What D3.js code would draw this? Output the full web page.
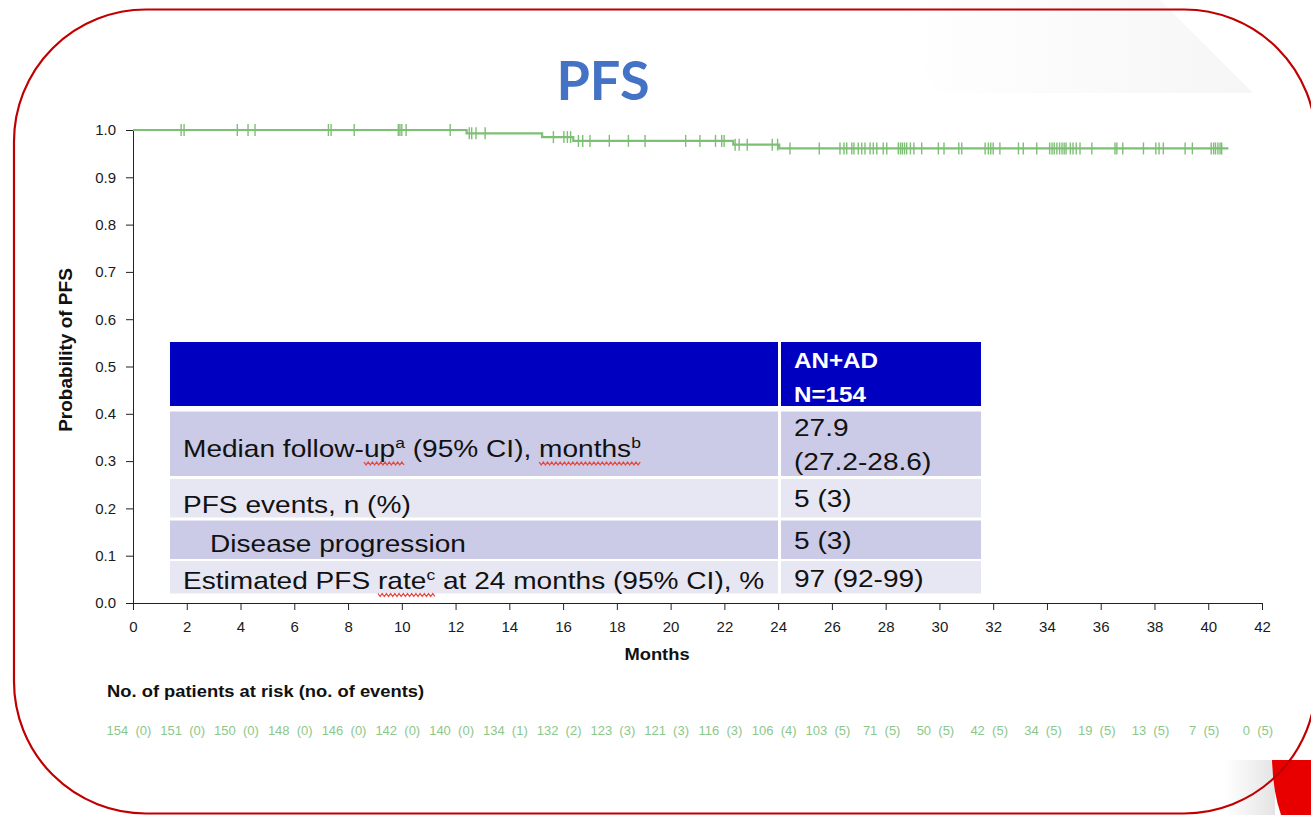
<!DOCTYPE html>
<html>
<head>
<meta charset="utf-8">
<script src="https://cdn.jsdelivr.net/npm/d3@7"></script>
<style>
  body { margin: 0; background: #fff; }
  svg { display: block; }
  text { font-family: "Liberation Sans", Arial, sans-serif; }
</style>
</head>
<body>
<div id="chart"></div>
<script>
// ---- data ----
const xTicks = [0,2,4,6,8,10,12,14,16,18,20,22,24,26,28,30,32,34,36,38,40,42];
const yTicks = [0,0.1,0.2,0.3,0.4,0.5,0.6,0.7,0.8,0.9,1.0];

// Kaplan-Meier steps (event times, survival after each)
const stepTimes = [0, 12.41, 15.22, 16.38, 22.33, 24.04];
const stepSurv  = [1.0, 0.993, 0.985, 0.977, 0.969, 0.961];
const lastFollowUp = 40.75;

// censoring ticks (months)
const censorTimes = [
  1.79, 1.9, 3.88, 4.28, 4.54, 7.27, 7.37, 8.23, 9.87, 9.93, 10.0, 10.16, 11.8,
  12.51, 12.6, 12.76, 13.1,
  15.64, 16.03, 16.16, 16.28,
  16.57, 16.73, 17.0, 17.72, 18.43, 19.05, 20.56, 21.09, 21.67, 21.9, 21.99,
  22.4, 22.55, 22.85, 23.78, 23.98,
  24.44, 25.53, 26.3, 26.45, 26.55, 26.74, 26.82, 26.98, 27.11, 27.23, 27.42, 27.54,
  27.67, 27.91, 28.04, 28.47, 28.55, 28.62, 28.7, 28.78, 28.92, 29.05, 29.34, 29.96,
  30.17, 30.72, 30.83, 31.7, 31.82, 31.91, 32.0, 32.25, 32.94, 33.12, 33.62, 34.1,
  34.19, 34.27, 34.37, 34.47, 34.56, 34.64, 34.71, 34.87, 34.97, 35.09, 35.23, 35.67,
  36.53, 36.6, 36.82, 37.59, 38.05, 38.17, 38.33, 39.14, 39.41, 40.11, 40.2, 40.27,
  40.36, 40.44, 40.5
];

// patients at risk / cumulative events at each x tick
const atRiskN      = [154,151,150,148,146,142,140,134,132,123,121,116,106,103,71,50,42,34,19,13,7,0];
const atRiskEvents = [0,0,0,0,0,0,0,1,2,3,3,3,4,5,5,5,5,5,5,5,5,5];

// summary table
const tableHeader = ["AN+AD", "N=154"];
const tableLabels = [
  [{t:"Median follow-"},{t:"up",sq:1},{t:"a",sup:1,sq:1},{t:" (95% CI), "},{t:"months",sq:1},{t:"b",sup:1,sq:1}],
  [{t:"PFS events, n (%)"}],
  [{t:"Disease progression"}],
  [{t:"Estimated PFS "},{t:"rate",sq:1},{t:"c",sup:1,sq:1},{t:" at 24 months (95% CI), %"}]
];
const tableValues = [["27.9","(27.2-28.6)"],["5 (3)"],["5 (3)"],["97 (92-99)"]];

// ---- drawing ----
const W = 1311, H = 815;
const svg = d3.select("#chart").append("svg").attr("width", W).attr("height", H);
const defs = svg.append("defs");

// faint decoration top right
const g1 = defs.append("linearGradient").attr("id","fade").attr("x1","0").attr("x2","1");
g1.append("stop").attr("offset","0%").attr("stop-color","#ffffff");
g1.append("stop").attr("offset","100%").attr("stop-color","#f6f6f6");
svg.append("path").attr("d","M900,0 L1160,0 L1253,93 L933,93 Z").attr("fill","url(#fade)");

// red corner bottom right
const g2 = defs.append("linearGradient").attr("id","fade2").attr("x1","0").attr("x2","1");
g2.append("stop").attr("offset","0%").attr("stop-color","#ffffff");
g2.append("stop").attr("offset","100%").attr("stop-color","#e4e4e4");
svg.append("rect").attr("x",1225).attr("y",760).attr("width",50).attr("height",55).attr("fill","url(#fade2)");
svg.append("path").attr("d","M1272,760 Q1273,792 1281,815 L1311,815 L1311,760 Z").attr("fill","#e80000");

// title
svg.append("text").attr("x", 603).attr("y", 100).attr("text-anchor","middle")
  .style("font-family","Lato, sans-serif").style("font-weight","bold").style("font-size","54px")
  .attr("fill","#4472c4").text("PFS");

const x = d3.scaleLinear().domain([0, 42]).range([133, 1262]);
const y = d3.scaleLinear().domain([0, 1]).range([603, 130]);

// axes
const xAxis = svg.append("g").attr("transform", `translate(0,${y(0)})`)
  .call(d3.axisBottom(x).tickValues(xTicks).tickSize(7).tickPadding(11).tickFormat(d3.format("d")));
const yAxis = svg.append("g").attr("transform", `translate(${x(0)},0)`)
  .call(d3.axisLeft(y).tickValues(yTicks).tickSize(7).tickPadding(10).tickFormat(d3.format(".1f")));
[xAxis, yAxis].forEach(a => {
  a.selectAll("path,line").attr("stroke","#222");
  a.selectAll("text").attr("fill","#1a1a1a").style("font-size","15px")
    .style("font-family","'Liberation Sans', Arial, sans-serif");
});

svg.append("text").attr("transform","translate(657,660) scale(1.08,1)").attr("text-anchor","middle")
  .style("font-weight","bold").style("font-size","17px").attr("fill","#111").text("Months");
svg.append("text").attr("transform","translate(72,350) rotate(-90)").attr("text-anchor","middle")
  .style("font-weight","bold").style("font-size","19px").attr("fill","#111").text("Probability of PFS");

// KM curve
const green = "#7dbf74";
const survAt = t => { let s = stepSurv[0]; stepTimes.forEach((st,i) => { if (t >= st) s = stepSurv[i]; }); return s; };
const curvePts = stepTimes.map((t,i) => [t, stepSurv[i]]).concat([[lastFollowUp, stepSurv[stepSurv.length-1]]]);
svg.append("path").datum(curvePts)
  .attr("fill","none").attr("stroke", green).attr("stroke-width", 2.2)
  .attr("d", d3.line().curve(d3.curveStepAfter).x(d => x(d[0])).y(d => y(d[1])));
svg.append("g").selectAll("line").data(censorTimes).join("line")
  .attr("x1", d => x(d)).attr("x2", d => x(d))
  .attr("y1", d => y(survAt(d)) - 6).attr("y2", d => y(survAt(d)) + 6)
  .attr("stroke", green).attr("stroke-width", 1.4);

// summary table
const tL = 170, tM = 779.5, tR = 981;
const stretch = 1.17;
const rowTops = [342, 411.5, 479, 520.5, 561];
const rowBots = [406, 476, 517.5, 559, 593.5];
const rowFill = ["#0000c0", "#cbcbe7", "#e7e7f3", "#cbcbe7", "#e7e7f3"];
const tbl = svg.append("g");
tbl.selectAll("rect.l").data(rowTops).join("rect").attr("class","l")
  .attr("x", tL).attr("y", d => d).attr("width", tM - tL - 1.5)
  .attr("height", (d,i) => rowBots[i] - d).attr("fill", (d,i) => rowFill[i]);
tbl.selectAll("rect.r").data(rowTops).join("rect").attr("class","r")
  .attr("x", tM + 1.5).attr("y", d => d).attr("width", tR - tM - 1.5)
  .attr("height", (d,i) => rowBots[i] - d).attr("fill", (d,i) => rowFill[i]);

const headBase = [367.5, 401.5];
tbl.selectAll("text.h").data(tableHeader).join("text").attr("class","h")
  .attr("transform", (d,i) => `translate(794,${headBase[i]}) scale(1.1,1)`).attr("fill","#fff")
  .style("font-weight","bold").style("font-size","22px").text(d => d);

const labelBase = [457, 512.5, 551.5, 588.5];
const labelX = [183, 183, 210, 183];
tableLabels.forEach((parts, i) => {
  const g = tbl.append("g").attr("transform", `translate(${labelX[i]},${labelBase[i]}) scale(${stretch},1)`);
  const t = g.append("text").attr("fill","#111").style("font-size","24px").style("white-space","pre");
  let shifted = false;
  parts.forEach(p => {
    const s = t.append("tspan").text(p.t);
    if (p.sup) { s.style("font-size","15px").attr("dy", -9); shifted = true; }
    else if (shifted) { s.attr("dy", 9); shifted = false; }
    p.node = s.node();
  });
  // spell-check style wavy underlines
  const runs = [];
  let run = null;
  parts.forEach(p => {
    if (p.sq) {
      const n = p.node, k = n.getNumberOfChars();
      const x0 = n.getStartPositionOfChar(0).x, x1 = n.getEndPositionOfChar(k - 1).x;
      if (run) run[1] = x1; else run = [x0, x1];
    } else if (run) { runs.push(run); run = null; }
  });
  if (run) runs.push(run);
  runs.forEach(([x0, x1]) => {
    const pts = [];
    for (let xx = x0, k = 0; xx <= x1; xx += 1.8, k++) pts.push([xx, 6 + (k % 2 ? 2 : -1)]);
    g.append("path").attr("d", d3.line()(pts)).attr("fill","none")
      .attr("stroke","#e8453c").attr("stroke-width",1.1);
  });
});

const valueBase = [[436, 469.5], [507], [548.5], [587]];
tableValues.forEach((vals, i) => {
  vals.forEach((v, j) => {
    tbl.append("text").attr("transform", `translate(794,${valueBase[i][j]}) scale(${stretch},1)`)
      .attr("fill","#111").style("font-size","24px").text(v);
  });
});

// number at risk
svg.append("text").attr("transform","translate(107,697) scale(1.08,1)")
  .style("font-weight","bold").style("font-size","17px").attr("fill","#111")
  .text("No. of patients at risk (no. of events)");
svg.append("g").selectAll("text").data(xTicks).join("text")
  .attr("x", d => x(d) - 4).attr("y", 735).attr("text-anchor","middle")
  .style("font-size","13px").style("white-space","pre").attr("fill","#8cc78a")
  .text((d,i) => `${atRiskN[i]}  (${atRiskEvents[i]})`);

// rounded frame
svg.append("rect").attr("x", 14).attr("y", 9.5).attr("width", 1302).attr("height", 804)
  .attr("rx", 132).attr("ry", 132).attr("fill","none")
  .attr("stroke","#c00000").attr("stroke-width", 2.2);
</script>
</body>
</html>
